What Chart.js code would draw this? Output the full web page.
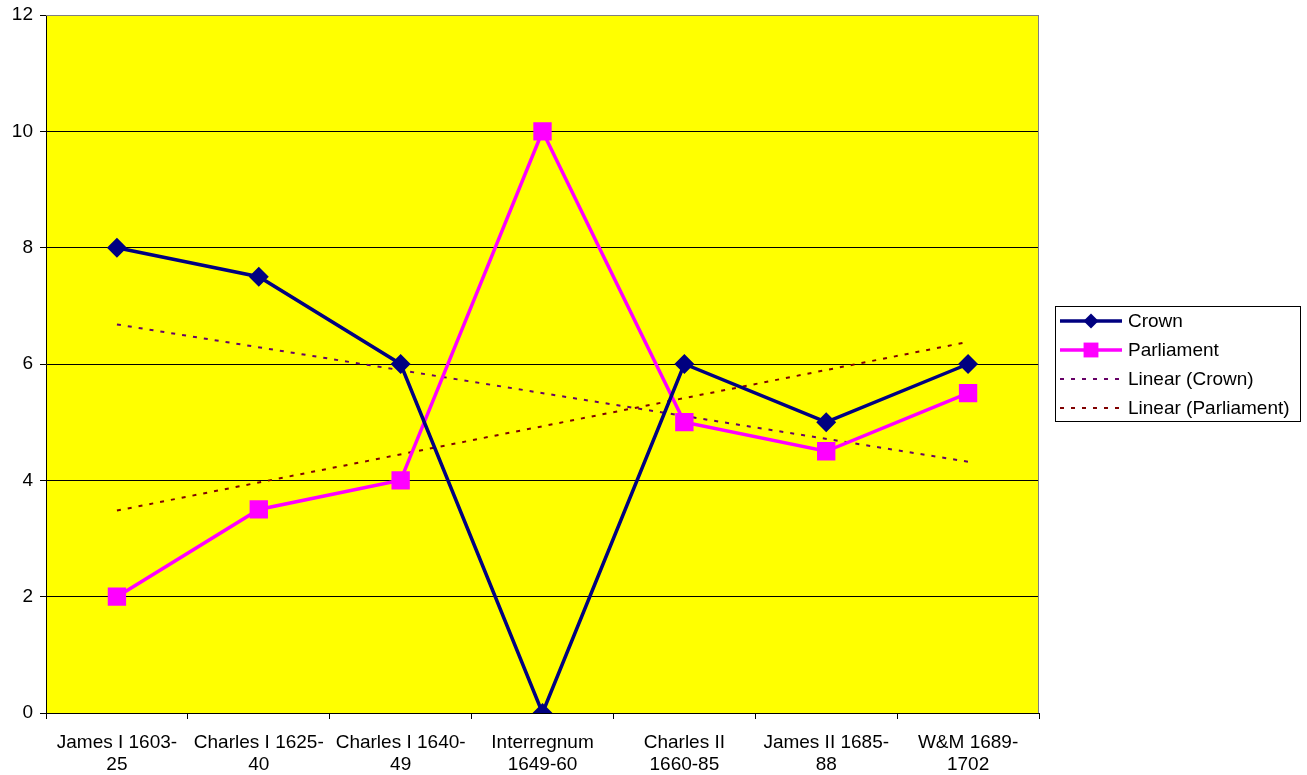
<!DOCTYPE html>
<html>
<head>
<meta charset="utf-8">
<script src="https://cdn.jsdelivr.net/npm/chart.js@4.4.1/dist/chart.umd.min.js"></script>
<style>
  html, body { margin: 0; padding: 0; background: #fff; }
  #wrap { width: 1307px; height: 775px; position: relative; }
</style>
</head>
<body>
<div id="wrap"><canvas id="chart"></canvas></div>
<script>
/* ── Data ── */
const categories = [
    ['James I 1603-', '25'],
    ['Charles I 1625-', '40'],
    ['Charles I 1640-', '49'],
    ['Interregnum', '1649-60'],
    ['Charles II', '1660-85'],
    ['James II 1685-', '88'],
    ['W&M 1689-', '1702']
];
const crown = [8, 7.5, 6, 0, 6, 5, 6];
const parliament = [2, 3.5, 4, 10, 5, 4.5, 5.5];
// trend line end points
const crownTrend = [6.68, null, null, null, null, null, 4.32];
const parliamentTrend = [3.48, null, null, null, null, null, 6.38];
const yTicks = [0, 2, 4, 6, 8, 10, 12];

const FONT = { family: "'Liberation Sans', Arial, sans-serif", size: 19 };

/* ── Plot background, border and boxed legend ── */
const excelLook = {
    id: 'excelLook',
    beforeDraw(chart) {
        const { ctx, chartArea: a } = chart;
        ctx.save();
        ctx.fillStyle = '#ffff00';
        ctx.fillRect(a.left, a.top, a.right - a.left, a.bottom - a.top);
        ctx.restore();
    },
    afterDatasetsDraw(chart) {
        const { ctx, chartArea: a } = chart;
        ctx.save();
        ctx.strokeStyle = '#808080';
        ctx.lineWidth = 1;
        ctx.beginPath();
        ctx.moveTo(a.left, a.top + 0.5);
        ctx.lineTo(a.right - 0.5, a.top + 0.5);
        ctx.lineTo(a.right - 0.5, a.bottom);
        ctx.stroke();
        ctx.restore();
    },
    afterDraw(chart) {
        const ctx = chart.ctx;
        const box = { x: 1055.5, y: 306.5, w: 245, h: 115 };
        ctx.save();
        ctx.strokeStyle = '#000';
        ctx.lineWidth = 1;
        ctx.strokeRect(box.x, box.y, box.w, box.h);
        ctx.font = `${FONT.size}px ${FONT.family}`;
        ctx.textBaseline = 'middle';
        chart.data.datasets.forEach((ds, i) => {
            const y = 321 + i * 29;
            ctx.strokeStyle = ds.borderColor;
            ctx.lineWidth = ds.borderWidth;
            ctx.setLineDash(ds.borderDash || []);
            ctx.beginPath();
            ctx.moveTo(1060, y);
            ctx.lineTo(1122, y);
            ctx.stroke();
            ctx.setLineDash([]);
            if (ds.pointRadius > 0) {
                ctx.fillStyle = ds.pointBackgroundColor;
                const r = ds.pointRadius;
                ctx.beginPath();
                if (ds.pointStyle === 'rectRot') {
                    ctx.moveTo(1091, y - r); ctx.lineTo(1091 + r, y);
                    ctx.lineTo(1091, y + r); ctx.lineTo(1091 - r, y);
                } else {
                    const s = r * Math.SQRT1_2;
                    ctx.rect(1091 - s, y - s, 2 * s, 2 * s);
                }
                ctx.closePath();
                ctx.fill();
            }
            ctx.fillStyle = '#000';
            ctx.fillText(ds.label, 1128, y + 1);
        });
        ctx.restore();
    }
};

new Chart(document.getElementById('chart'), {
    type: 'line',
    data: {
        labels: categories,
        datasets: [
            {
                label: 'Crown',
                data: crown,
                borderColor: '#000080',
                backgroundColor: '#000080',
                pointBackgroundColor: '#000080',
                pointBorderColor: '#000080',
                pointStyle: 'rectRot',
                pointRadius: 7.5,
                borderWidth: 3.5,
                tension: 0
            },
            {
                label: 'Parliament',
                data: parliament,
                borderColor: '#ff00ff',
                backgroundColor: '#ff00ff',
                pointBackgroundColor: '#ff00ff',
                pointBorderColor: '#ff00ff',
                pointStyle: 'rect',
                pointRadius: 10.5,
                borderWidth: 3.5,
                tension: 0
            },
            {
                label: 'Linear (Crown)',
                data: crownTrend,
                borderColor: '#660066',
                borderWidth: 2,
                borderDash: [4, 7],
                pointRadius: 0,
                spanGaps: true
            },
            {
                label: 'Linear (Parliament)',
                data: parliamentTrend,
                borderColor: '#800000',
                borderWidth: 2,
                borderDash: [4, 7],
                pointRadius: 0,
                spanGaps: true
            }
        ]
    },
    options: {
        responsive: true,
        maintainAspectRatio: false,
        animation: false,
        layout: { padding: { top: 15, right: 268, left: 0, bottom: 0 } },
        plugins: {
            legend: { display: false },
            tooltip: { enabled: false }
        },
        scales: {
            x: {
                offset: true,
                grid: { offset: true, drawOnChartArea: false, drawTicks: true, tickLength: 6, color: '#000' },
                border: { color: '#000', width: 1 },
                ticks: { color: '#000', font: FONT, maxRotation: 0, autoSkip: false, padding: 12 },
                afterFit: s => { s.height = 62; s.paddingLeft = 0; s.paddingRight = 0; }
            },
            y: {
                min: 0,
                max: 12,
                afterBuildTicks: s => { s.ticks = yTicks.map(v => ({ value: v })); },
                grid: {
                    color: c => (c.tick && c.tick.value === 12 ? '#808080' : '#000'),
                    tickColor: '#000',
                    drawTicks: true,
                    tickLength: 6
                },
                border: { color: '#000', width: 1 },
                ticks: { color: '#000', font: FONT, padding: 7 },
                afterFit: s => { s.width = 46; s.paddingTop = 0; s.paddingBottom = 0; }
            }
        }
    },
    plugins: [excelLook]
});
</script>
</body>
</html>
